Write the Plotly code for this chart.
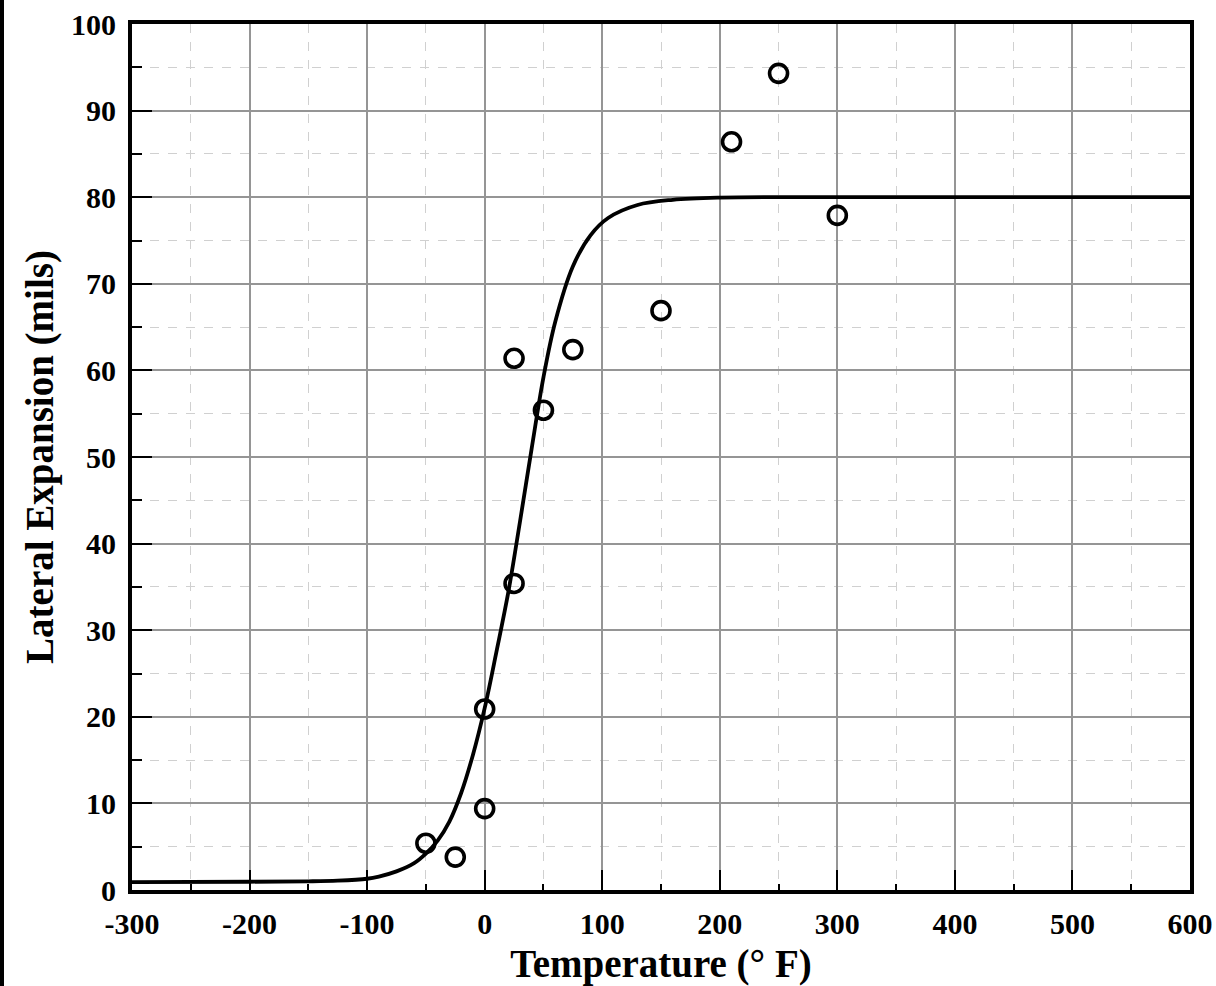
import plotly.graph_objects as go

# Measured data points (Temperature °F, Lateral Expansion mils)
temp_pts = [-50, -25, 0, 0, 25, 25, 50, 75, 150, 210, 250, 300]
le_pts = [5.4, 3.8, 9.4, 20.9, 35.4, 61.4, 55.4, 62.4, 66.9, 86.4, 94.3, 77.9]

# Fitted curve
curve_t = [-300, -200, -150, -125, -100, -90, -75, -60, -50, -40, -30, -20, -10, 0, 10, 20, 30, 40, 50, 60, 75, 90, 105, 130, 160, 200, 300, 600]
curve_le = [0.9, 0.95, 1.0, 1.08, 1.3, 1.55, 2.15, 3.1, 4.2, 5.7, 7.9, 11.2, 15.6, 21.0, 27.5, 34.3, 42.5, 51.0, 59.2, 65.6, 72.0, 75.6, 77.6, 79.1, 79.7, 79.95, 80.0, 80.0]

x_ticks = [-300, -200, -100, 0, 100, 200, 300, 400, 500, 600]
y_ticks = [0, 10, 20, 30, 40, 50, 60, 70, 80, 90, 100]

W, H = 1216, 986
ML, MR, MT, MB = 132, 26, 24, 96

font_family = "Liberation Serif"

fig = go.Figure()
fig.add_trace(go.Scatter(
    x=curve_t, y=curve_le, mode="lines",
    line=dict(color="black", width=3.8, shape="spline", smoothing=1.0),
    hoverinfo="skip", showlegend=False,
))
fig.add_trace(go.Scatter(
    x=temp_pts, y=le_pts, mode="markers",
    marker=dict(symbol="circle-open", size=18, color="black", line=dict(width=3.6, color="black")),
    showlegend=False,
))

axis_common = dict(
    showline=True, linecolor="black", linewidth=4, mirror=True,
    ticks="inside", ticklen=20, tickwidth=2, tickcolor="black",
    showgrid=True, gridcolor="#959595", gridwidth=1.8,
    zeroline=False, automargin=False,
    tickfont=dict(family=font_family, size=30, color="black", weight="bold"),
)

fig.update_xaxes(
    **axis_common,
    range=[-300, 600], tickvals=x_ticks, ticktext=[str(v) for v in x_ticks],
    minor=dict(dtick=50, ticks="inside", ticklen=6, tickwidth=2, tickcolor="black",
               showgrid=True, gridcolor="#d0d0d0", gridwidth=1.2, griddash="dash"),
    title=dict(text="<b>Temperature (° F)</b>", font=dict(family=font_family, size=39, color="black"), standoff=13),
    ticklabelstandoff=4,
)
fig.update_yaxes(
    **axis_common,
    range=[0, 100], tickvals=y_ticks, ticktext=[str(v) for v in y_ticks],
    minor=dict(dtick=5, ticks="inside", ticklen=10, tickwidth=2, tickcolor="black",
               showgrid=True, gridcolor="#d0d0d0", gridwidth=1.2, griddash="dash"),
    title=dict(text="<b>Lateral Expansion (mils)</b>", font=dict(family=font_family, size=39, color="black"), standoff=6),
    ticklabelstandoff=6,
)

pw = W - ML - MR
ph = H - MT - MB
fig.add_shape(type="rect", xref="paper", yref="paper",
              x0=(0 - ML) / pw, x1=(4 - ML) / pw, y0=-MB / ph, y1=1 + MT / ph,
              fillcolor="black", line=dict(width=0), layer="above")

fig.update_layout(
    width=W, height=H,
    margin=dict(l=ML, r=MR, t=MT, b=MB, autoexpand=False),
    paper_bgcolor="white", plot_bgcolor="white",
    font=dict(family=font_family, color="black"),
)

fig.write_html("out.html")
